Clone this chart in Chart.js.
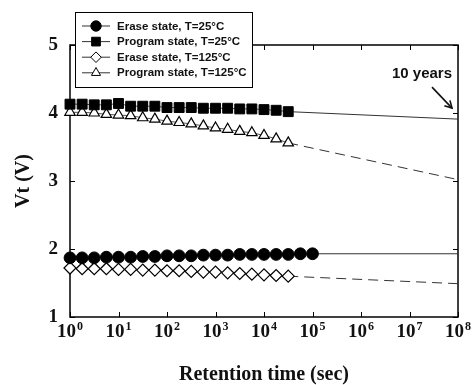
<!DOCTYPE html>
<html><head><meta charset="utf-8">
<script src="https://cdn.jsdelivr.net/npm/chart.js@4"></script>
<style>html,body{margin:0;padding:0;background:#fff}</style>
</head><body>
<canvas id="c" width="476" height="385"></canvas>
<script>
// Retention time (sec), measurement points
const times = [1, 1.78, 3.16, 5.62, 10, 17.8, 31.6, 56.2, 100, 178, 316, 562, 1000, 1780, 3160, 5620, 10000, 17800, 31600, 56200, 100000];
// Vt (V) series
const erase25    = [1.87,1.87,1.87,1.88,1.88,1.88,1.89,1.89,1.90,1.90,1.90,1.91,1.91,1.91,1.92,1.92,1.92,1.92,1.92,1.93,1.93];
const program25  = [4.13,4.13,4.12,4.12,4.14,4.10,4.10,4.10,4.08,4.08,4.08,4.07,4.07,4.07,4.06,4.06,4.05,4.04,4.02];
const erase125   = [1.72,1.71,1.71,1.71,1.70,1.70,1.69,1.69,1.68,1.68,1.67,1.66,1.66,1.65,1.64,1.63,1.62,1.61,1.60];
const program125 = [4.01,4.01,4.00,3.98,3.97,3.96,3.93,3.91,3.88,3.86,3.84,3.81,3.78,3.76,3.73,3.71,3.67,3.62,3.56];
// extrapolation to 10 years
const extTime = 1e8;
const erase25End = 1.93, program25End = 3.91, erase125End = 1.49, program125End = 3.02;
// axes
const xTicks = [1, 10, 100, 1e3, 1e4, 1e5, 1e6, 1e7, 1e8];
const xTickExponents = ['0', '1', '2', '3', '4', '5', '6', '7', '8'];
const yTicks = [1, 2, 3, 4, 5];
const seriesLabels = ['Erase state, T=25°C', 'Program state, T=25°C', 'Erase state, T=125°C', 'Program state, T=125°C'];
const annotationText = '10 years';

const toPts = (vals) => vals.map((v, i) => ({x: times[i], y: v}));
const extPts = (vals, end) => [{x: times[vals.length - 1], y: vals[vals.length - 1]}, {x: extTime, y: end}];

const SERIF = '"Liberation Serif", "Times New Roman", serif';
const SANS = '"Liberation Sans", Arial, sans-serif';
const LINE = '#555';
const markerSets = [
  {data: erase25,    pointStyle: 'circle',   pointRadius: 5.9, bg: '#000', bw: 1},
  {data: program25,  pointStyle: 'rect',     pointRadius: 7.0, bg: '#000', bw: 1},
  {data: erase125,   pointStyle: 'rectRot',  pointRadius: 6.0, bg: '#fff', bw: 1.2},
  {data: program125, pointStyle: 'triangle', pointRadius: 6.0, bg: '#fff', bw: 1.2}
];
const datasets = markerSets.map((m, i) => ({
  label: seriesLabels[i],
  data: toPts(m.data),
  borderColor: LINE, borderWidth: 1,
  pointStyle: m.pointStyle, pointRadius: m.pointRadius,
  pointBackgroundColor: m.bg, pointBorderColor: '#000', pointBorderWidth: m.bw,
  fill: false, tension: 0, clip: false
}));
const extSets = [
  {vals: erase25, end: erase25End, dash: []},
  {vals: program25, end: program25End, dash: []},
  {vals: erase125, end: erase125End, dash: [10, 6]},
  {vals: program125, end: program125End, dash: [10, 6]}
];
extSets.forEach(e => datasets.push({
  label: '', data: extPts(e.vals, e.end), borderColor: '#333', borderWidth: 1,
  borderDash: e.dash, pointRadius: 0, fill: false, clip: false
}));

const frame = {
  id: 'frame',
  beforeDatasetsDraw(chart) {
    const {ctx, chartArea: a, scales: {x, y}} = chart;
    ctx.save();
    ctx.strokeStyle = '#000';
    ctx.lineWidth = 1.5;
    ctx.strokeRect(a.left, a.top, a.right - a.left, a.bottom - a.top);
    ctx.lineWidth = 1;
    const tl = 5;
    ctx.beginPath();
    xTicks.forEach(v => {
      const px = Math.round(x.getPixelForValue(v)) + 0.5;
      ctx.moveTo(px, a.bottom); ctx.lineTo(px, a.bottom - tl);
      ctx.moveTo(px, a.top); ctx.lineTo(px, a.top + tl);
    });
    yTicks.forEach(v => {
      const py = Math.round(y.getPixelForValue(v)) + 0.5;
      ctx.moveTo(a.left, py); ctx.lineTo(a.left + tl, py);
      ctx.moveTo(a.right, py); ctx.lineTo(a.right - tl, py);
    });
    ctx.stroke();
    // x tick labels: 10 with superscript exponent
    ctx.fillStyle = '#111';
    ctx.textBaseline = 'alphabetic';
    ctx.textAlign = 'left';
    xTicks.forEach((v, i) => {
      const px = x.getPixelForValue(v);
      ctx.font = 'bold 19px ' + SERIF;
      const w1 = ctx.measureText('10').width;
      ctx.font = 'bold 12px ' + SERIF;
      const w2 = ctx.measureText(xTickExponents[i]).width;
      const x0 = px - (w1 + w2 + 1) / 2;
      ctx.font = 'bold 19px ' + SERIF;
      ctx.fillText('10', x0, a.bottom + 20);
      ctx.font = 'bold 12px ' + SERIF;
      ctx.fillText(xTickExponents[i], x0 + w1 + 1, a.bottom + 13);
    });
    ctx.restore();
  },
  afterDraw(chart) {
    const {ctx, scales: {x, y}} = chart;
    ctx.save();
    // legend box
    const lx = 75, ly = 12, lw = 177, lh = 75;
    ctx.fillStyle = '#fff';
    ctx.fillRect(lx, ly, lw, lh);
    ctx.strokeStyle = '#000';
    ctx.lineWidth = 1;
    ctx.strokeRect(lx + 0.5, ly + 0.5, lw, lh);
    markerSets.forEach((m, i) => {
      const ry = ly + 14 + i * 15.6;
      ctx.strokeStyle = '#333';
      ctx.lineWidth = 1;
      ctx.beginPath(); ctx.moveTo(82, ry); ctx.lineTo(110, ry); ctx.stroke();
      ctx.fillStyle = m.bg; ctx.strokeStyle = '#000';
      Chart.helpers.drawPoint(ctx, {pointStyle: m.pointStyle, radius: m.pointRadius * 0.88, borderWidth: m.bw, rotation: 0}, 96, ry);
      ctx.fillStyle = '#111';
      ctx.font = 'bold 11.5px ' + SANS;
      ctx.textBaseline = 'middle';
      ctx.textAlign = 'left';
      ctx.fillText(seriesLabels[i], 117, ry + 0.5);
    });
    // 10 years annotation
    const ex = x.getPixelForValue(extTime), ey = y.getPixelForValue(program25End);
    const tipX = ex - 6, tipY = ey - 11, tailX = ex - 26, tailY = ey - 32;
    ctx.strokeStyle = '#111'; ctx.lineWidth = 1.6;
    ctx.beginPath(); ctx.moveTo(tailX, tailY); ctx.lineTo(tipX, tipY); ctx.stroke();
    const ang = Math.atan2(tipY - tailY, tipX - tailX), hl = 8;
    ctx.beginPath();
    ctx.moveTo(tipX - hl * Math.cos(ang - 0.5), tipY - hl * Math.sin(ang - 0.5));
    ctx.lineTo(tipX, tipY);
    ctx.lineTo(tipX - hl * Math.cos(ang + 0.5), tipY - hl * Math.sin(ang + 0.5));
    ctx.stroke();
    ctx.fillStyle = '#111';
    ctx.font = 'bold 15px ' + SANS;
    ctx.textAlign = 'right';
    ctx.textBaseline = 'middle';
    ctx.fillText(annotationText, ex - 6, tailY - 13);
    ctx.restore();
  }
};

new Chart(document.getElementById('c'), {
  type: 'line',
  data: {datasets},
  plugins: [frame],
  options: {
    responsive: false, animation: false, devicePixelRatio: 1,
    layout: {padding: {top: 45, right: 18, left: 0, bottom: 0}},
    plugins: {legend: {display: false}, tooltip: {enabled: false}},
    scales: {
      x: {
        type: 'logarithmic', min: 1, max: 1e8,
        afterBuildTicks: s => { s.ticks = xTicks.map(v => ({value: v})); },
        afterFit: s => { s.height = 68; },
        grid: {display: false, drawTicks: false}, border: {display: false},
        ticks: {display: false},
        title: {display: true, text: 'Retention time (sec)', color: '#111',
          font: {family: SERIF, size: 20, weight: 'bold', lineHeight: 1},
          padding: {top: 4, bottom: 0}}
      },
      y: {
        min: 1, max: 5,
        afterBuildTicks: s => { s.ticks = yTicks.map(v => ({value: v})); },
        afterFit: s => { s.width = 70; },
        grid: {display: false, drawTicks: false}, border: {display: false},
        ticks: {padding: 12, color: '#111',
          font: {family: SERIF, size: 19, weight: 'bold'}},
        title: {display: true, text: 'Vt (V)', color: '#111',
          font: {family: SERIF, size: 20, weight: 'bold', lineHeight: 1.2},
          padding: {top: 12, bottom: 0}}
      }
    }
  }
});
</script>
</body></html>
